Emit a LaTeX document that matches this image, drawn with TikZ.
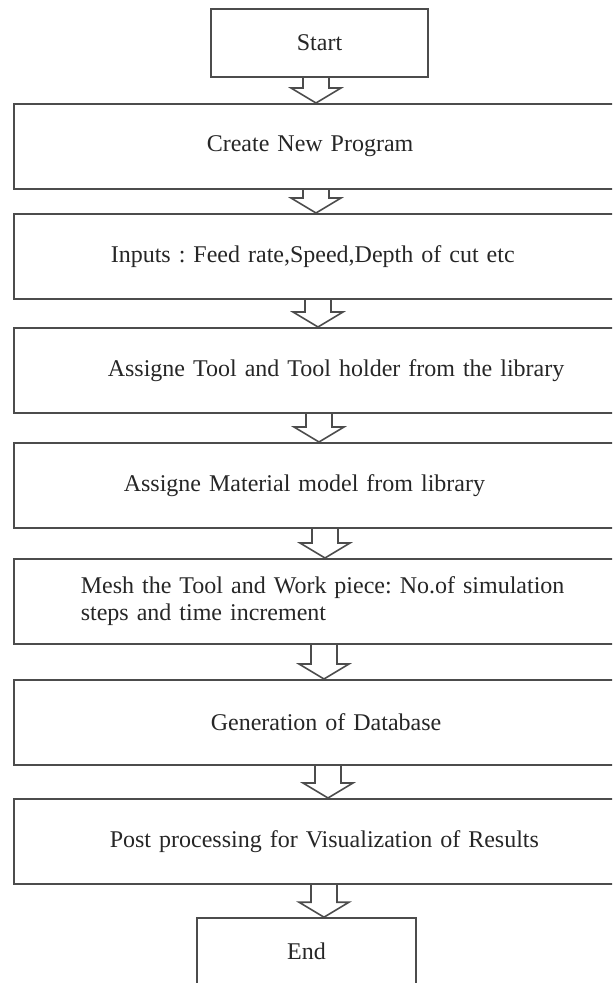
\documentclass[tikz,border=0pt]{standalone}
\usepackage{fontspec}
\setmainfont{Liberation Serif}
\usetikzlibrary{positioning,calc}

\begin{document}
\begin{tikzpicture}[
    x=0.5pt, y=-0.5pt,
    font=\fontsize{12}{13.5}\selectfont\frenchspacing,
    termbox/.style={draw=black!70, line width=0.8pt, inner sep=0pt, text=black!85},
    stepbox/.style={draw=black!70, line width=0.8pt, anchor=north west, minimum height=42.5pt,
      inner ysep=0pt, text width=300pt, align=left, text=black!85},
    hollow/.style={draw=black!70, line width=0.8pt, line join=miter},
  ]
  \clip (0,0) rectangle (612,983);

  \node[termbox, minimum width=108.5pt, minimum height=34pt] (start) at (319.5,43) {Start};

  % name / top / text indent / text
  \foreach \n/\top/\xs/\t in {
      create/103/96.5pt/{Create New Program},
      inputs/213/48.5pt/{Inputs : Feed rate,Speed,Depth of cut etc},
      tool/327/47pt/{Assigne Tool and Tool holder from the library},
      material/442/55pt/{Assigne Material model from library},
      mesh/558/33.5pt/{Mesh the Tool and Work piece: No.of simulation\\steps and time increment},
      gen/679/98.5pt/{Generation of Database},
      post/798/48pt/{Post processing for Visualization of Results}}
    \node[stepbox, inner xsep=\xs] (\n) at (13,\top) {\t};

  \node[termbox, minimum width=109.5pt, minimum height=33pt] (end) at (306.5,951) {End};

  % hollow arrows between the steps
  \foreach \a/\b/\ax in {start/create/316, create/inputs/316, inputs/tool/318, tool/material/319,
      material/mesh/325, mesh/gen/324, gen/post/328, post/end/324}
    \draw[hollow] let \p1=(\a.south), \p2=(\b.north) in
      (\ax-13,\y1) -- (\ax-13,\y2+7.5pt) -- (\ax-25,\y2+7.5pt) -- (\ax,\y2)
      -- (\ax+25,\y2+7.5pt) -- (\ax+13,\y2+7.5pt) -- (\ax+13,\y1);
\end{tikzpicture}
\end{document}
